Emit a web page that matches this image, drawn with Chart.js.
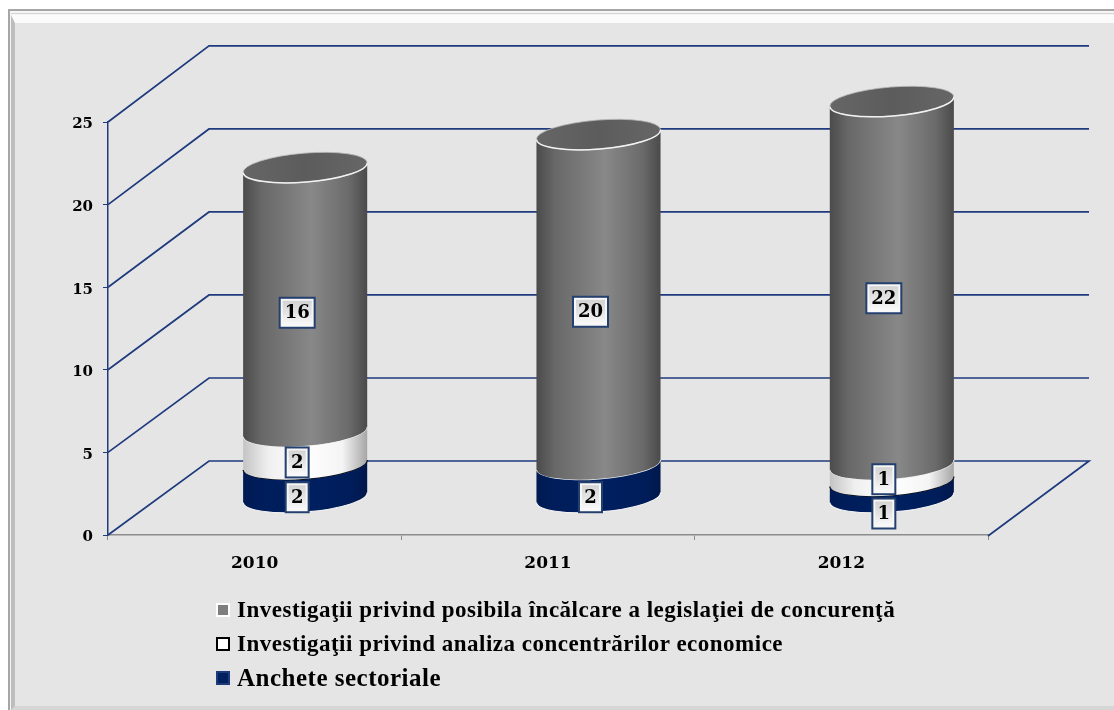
<!DOCTYPE html>
<html>
<head>
<meta charset="utf-8">
<title>Investigaţii</title>
<script src="https://cdn.jsdelivr.net/npm/chart.js@4"></script>
<style>
    html, body { margin: 0; padding: 0; background: #fff; overflow: hidden; }
    #wrap { position: relative; width: 1114px; height: 710px; }
    /* the beveled picture frame round the chart */
    #frame { position: absolute; left: 8px; top: 9px; width: 1106px; height: 701px; box-sizing: border-box;
             border-left: 2px solid #a6a6a6; border-top: 2px solid #a6a6a6; background: #f5f5f5; }
    #bevel { position: absolute; left: 1px; top: 2px; right: 0; bottom: 0; box-sizing: border-box;
             border-top: 1px solid #d4d4d4; }
    #bevel2 { position: absolute; left: 0; top: 1px; right: 0; bottom: 0; box-sizing: border-box;
              border-left: 4px solid #bdbdbd; border-top: 8px solid #fbfbfb; border-bottom: 4px solid #d6d6d6;
              background: #e5e5e5; }
    canvas { position: absolute; left: 0; top: 0; }
    #legend { position: absolute; left: 216px; top: 593px; font: bold 23px "Liberation Serif", serif; color: #000; }
    #legend .row { display: flex; align-items: center; height: 34px; white-space: nowrap; letter-spacing: 0.5px; }
    #legend .row:nth-child(3) { font-size: 25px; }
    #legend .box { width: 14px; height: 14px; box-sizing: border-box; margin-right: 7px; border-style: solid; border-width: 2px; }
</style>
</head>
<body>
<div id="wrap">
    <div id="frame"><div id="bevel"><div id="bevel2"></div></div></div>
    <canvas id="chart" width="1114" height="710"></canvas>
    <div id="legend"></div>
</div>
<script>
// Chart values
const years = ['2010', '2011', '2012'];
const anchete = [2, 2, 1];
const concentrari = [2, 0, 1];
const concurenta = [16, 20, 22];

const ancheteName = 'Anchete sectoriale';
const concentrariName = 'Investigaţii privind analiza concentrărilor economice';
const concurentaName = 'Investigaţii privind posibila încălcare a legislaţiei de concurenţă';

// How far each value box was pushed down from the middle of its segment
const ancheteShift = [16, 16, 24];
const concentrariShift = [14, 0, 6];
const concurentaShift = [13, 12, 15];

// Depth of the 3D floor, the cylinders stand in the middle of it
const depthX = 101;
const depthY = 74;
const tilt = -0.08;
const capRadius = 14.5;

const gridBlue = '#1f3a7d';

// Body of one stack segment, both ends are front half ellipses so segments never overlap
function segmentPath(ctx, cx, top, bottom, rx) {
    const dy = rx * Math.sin(tilt);
    ctx.beginPath();
    ctx.moveTo(cx - rx, top - dy);
    ctx.ellipse(cx, top, rx / Math.cos(tilt), capRadius, tilt, Math.PI, 0, true);
    ctx.lineTo(cx + rx, bottom + dy);
    ctx.ellipse(cx, bottom, rx / Math.cos(tilt), capRadius, tilt, 0, Math.PI, false);
    ctx.closePath();
}

function bodyGradient(ctx, cx, rx, stops) {
    const g = ctx.createLinearGradient(cx - rx, 0, cx + rx, 0);
    stops.forEach(s => g.addColorStop(s[0], s[1]));
    return g;
}

const bodyStops = {
    0: [[0, '#001a52'], [0.12, '#001d5a'], [0.5, '#002060'], [0.88, '#001d5a'], [1, '#00174a']],
    1: [[0, '#c4c4c4'], [0.2, '#efefef'], [0.5, '#ffffff'], [0.8, '#f4f4f4'], [1, '#a6a6a6']],
    2: [[0, '#4b4b4b'], [0.15, '#686868'], [0.55, '#888888'], [0.85, '#6b6b6b'], [1, '#4a4a4a']]
};

class CylinderElement extends Chart.BarElement {
    static id = 'cylinder';

    draw(ctx) {
        const { x, y, base, width } = this.getProps(['x', 'y', 'base', 'width']);
        if (Math.abs(base - y) < 0.5) return;

        const cx = x + depthX / 2;
        const rx = width / 2;
        const top = y - depthY / 2;
        const bottom = base - depthY / 2;
        const index = this.$datasetIndex;
        const radiusX = rx / Math.cos(tilt);

        ctx.save();
        segmentPath(ctx, cx, top, bottom, rx);
        ctx.fillStyle = bodyGradient(ctx, cx, rx, bodyStops[index]);
        ctx.fill();

        // edge under the segment
        ctx.beginPath();
        ctx.ellipse(cx, bottom, radiusX, capRadius, tilt, 0, Math.PI, false);
        ctx.lineWidth = 1.2;
        ctx.strokeStyle = index === 0 ? '#f4f4f4' : (index === 1 ? '#111111' : '#eeeeee');
        ctx.stroke();

        // only the top segment shows its lid
        if (index === 2) {
            ctx.beginPath();
            ctx.ellipse(cx, top, radiusX, capRadius, tilt, 0, Math.PI * 2);
            ctx.fillStyle = bodyGradient(ctx, cx, rx, [[0, '#666666'], [0.5, '#5c5c5c'], [1, '#666666']]);
            ctx.fill();
            ctx.lineWidth = 0.8;
            ctx.strokeStyle = '#bdbdbd';
            ctx.stroke();
            ctx.beginPath();
            ctx.ellipse(cx, top, radiusX, capRadius, tilt, 0, Math.PI, false);
            ctx.lineWidth = 1.5;
            ctx.strokeStyle = '#f2f2f2';
            ctx.stroke();
        }
        ctx.restore();
    }
}

class CylinderController extends Chart.BarController {
    static id = 'cylinder';
    static defaults = Object.assign({}, Chart.BarController.defaults, { dataElementType: 'cylinder' });

    updateElements(bars, start, count, mode) {
        super.updateElements(bars, start, count, mode);
        for (let i = start; i < start + count; i++) {
            bars[i].$datasetIndex = this.index;
        }
    }
}

Chart.register(CylinderElement, CylinderController);

// Walls and floor of the 3D box, drawn behind the cylinders
const wallsPlugin = {
    id: 'walls',
    beforeDraw(chart) {
        // tick digits sit a little lower than the canvas middle baseline puts them
        chart.scales.y.getLabelItems().forEach(item => { item.options.translation[1] += 2.5; });
    },
    beforeDatasetsDraw(chart) {
        const { ctx, chartArea, scales } = chart;
        ctx.save();
        ctx.strokeStyle = gridBlue;
        ctx.lineWidth = 1.7;
        scales.y.ticks.forEach(t => {
            const y = scales.y.getPixelForValue(t.value);
            const backY = y - depthY + (y - chartArea.bottom) * 0.005;
            ctx.beginPath();
            ctx.moveTo(chartArea.left, y);
            ctx.lineTo(chartArea.left + depthX, backY);
            ctx.lineTo(chartArea.right + depthX, backY);
            if (t.value === 0) ctx.lineTo(chartArea.right, chartArea.bottom + 1);
            ctx.stroke();
        });
        ctx.restore();
    }
};

// Value boxes on top of the bars
const valueBoxPlugin = {
    id: 'valueBoxes',
    afterDatasetsDraw(chart) {
        const ctx = chart.ctx;
        chart.data.datasets.forEach((ds, di) => {
            chart.getDatasetMeta(di).data.forEach((bar, i) => {
                const value = ds.data[i];
                if (!value) return;
                const cx = bar.x + depthX / 2 - 8;
                const cy = (bar.y + bar.base) / 2 - depthY / 2 + ds.labelShift[i];
                const text = String(value);
                const w = text.length > 1 ? 35 : 23;
                const h = 30;
                const g = ctx.createLinearGradient(0, cy - h / 2, 0, cy + h / 2);
                g.addColorStop(0, '#cfcfcf');
                g.addColorStop(0.5, '#e4e4e4');
                g.addColorStop(1, '#ffffff');
                ctx.save();
                ctx.fillStyle = g;
                ctx.fillRect(cx - w / 2, cy - h / 2, w, h);
                ctx.lineWidth = 2;
                ctx.strokeStyle = '#f7f7f7';
                ctx.strokeRect(cx - w / 2 + 2, cy - h / 2 + 2, w - 4, h - 4);
                ctx.strokeStyle = '#24406f';
                ctx.strokeRect(cx - w / 2, cy - h / 2, w, h);
                ctx.font = 'bold 18px "DejaVu Serif", serif';
                ctx.fillStyle = '#000';
                ctx.textAlign = 'center';
                ctx.textBaseline = 'middle';
                ctx.fillText(text, cx, cy + 1);
                ctx.restore();
            });
        });
    }
};

// Legend as plain html rows, one entry per line with the top of the stack first
const htmlLegendPlugin = {
    id: 'htmlLegend',
    afterUpdate(chart) {
        const box = document.getElementById('legend');
        box.innerHTML = '';
        chart.data.datasets.slice().reverse().forEach(ds => {
            const row = document.createElement('div');
            row.className = 'row';
            const swatch = document.createElement('span');
            swatch.className = 'box';
            swatch.style.background = ds.backgroundColor;
            swatch.style.borderColor = ds.borderColor;
            const label = document.createElement('span');
            label.textContent = ds.label;
            row.appendChild(swatch);
            row.appendChild(label);
            box.appendChild(row);
        });
    }
};

new Chart(document.getElementById('chart'), {
    type: 'cylinder',
    data: {
        labels: years,
        datasets: [
            { label: ancheteName, data: anchete, labelShift: ancheteShift, backgroundColor: '#002060', borderColor: '#1d3a7a' },
            { label: concentrariName, data: concentrari, labelShift: concentrariShift, backgroundColor: '#ffffff', borderColor: '#000000' },
            { label: concurentaName, data: concurenta, labelShift: concurentaShift, backgroundColor: '#7f7f7f', borderColor: '#ffffff' }
        ]
    },
    plugins: [wallsPlugin, valueBoxPlugin, htmlLegendPlugin],
    options: {
        responsive: false,
        animation: false,
        layout: { padding: { left: 0, top: 122, right: 126, bottom: 0 } },
        datasets: { cylinder: { categoryPercentage: 1, barPercentage: 0.423, clip: false } },
        plugins: { legend: { display: false }, tooltip: { enabled: false } },
        scales: {
            x: {
                stacked: true,
                afterFit: scale => { scale.height = 175; },
                grid: { drawOnChartArea: false, tickLength: 5, color: '#8c8c8c', tickColor: '#8c8c8c', offset: true },
                border: { color: '#8c8c8c', width: 1.5 },
                ticks: { color: '#000', padding: 13, maxRotation: 0, font: { family: 'DejaVu Serif', weight: 'bold', size: 17 } }
            },
            y: {
                stacked: true,
                min: 0,
                max: 25,
                afterFit: scale => { scale.width = 108; },
                grid: { drawOnChartArea: false, tickLength: 5, color: gridBlue, tickColor: gridBlue },
                border: { color: gridBlue, width: 1.5 },
                ticks: { stepSize: 5, color: '#000', padding: 10, font: { family: 'DejaVu Serif', weight: 'bold', size: 15 } }
            }
        }
    }
});
</script>
</body>
</html>
